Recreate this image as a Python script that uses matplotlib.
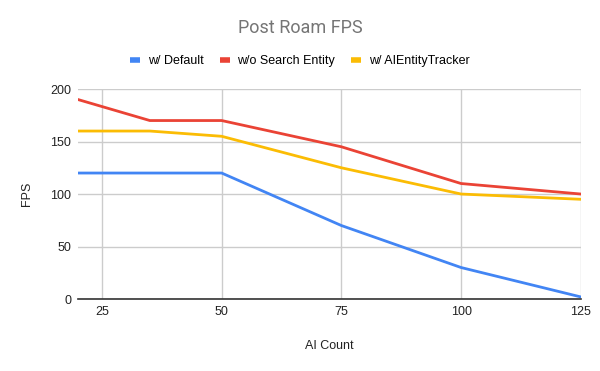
import matplotlib
import matplotlib.pyplot as plt

matplotlib.use('Agg')

ai_count = [20, 35, 50, 75, 100, 125]
fps_default = [120, 120, 120, 70, 30, 2]
fps_no_search = [190, 170, 170, 145, 110, 100]
fps_tracker = [160, 160, 155, 125, 100, 95]

series_labels = ['w/ Default', 'w/o Search Entity', 'w/ AIEntityTracker']
series_colors = ['#4285F4', '#EA4335', '#FBBC04']
x_ticks = [25, 50, 75, 100, 125]
y_ticks = [0, 50, 100, 150, 200]

plt.rcParams['font.family'] = ['Liberation Sans', 'DejaVu Sans']

fig = plt.figure(figsize=(6, 3.71), dpi=100)
ax = fig.add_axes([0.13, 0.194, 0.838, 0.566])

for ys, lab, col in zip([fps_default, fps_no_search, fps_tracker],
                        series_labels, series_colors):
    ax.plot(ai_count, ys, color=col, lw=2, label=lab, solid_joinstyle='round')

ax.set_xlim(20, 125)
ax.set_ylim(0, 200)
ax.set_xticks(x_ticks)
ax.set_yticks(y_ticks)
ax.grid(True, color='#cccccc', lw=1)
ax.set_axisbelow(True)
for s in ['top', 'right', 'left']:
    ax.spines[s].set_visible(False)
ax.spines['bottom'].set_color('#333333')
ax.spines['bottom'].set_linewidth(1.2)
ax.tick_params(length=0, labelsize=9, colors='#222222', pad=5)

ax.set_xlabel('AI Count', fontsize=9, color='#222222', labelpad=16)
ax.set_ylabel('FPS', fontsize=9, color='#222222', labelpad=12)

fig.text(0.5, 0.925, 'Post Roam FPS', ha='center', va='center',
         fontsize=13, color='#757575', family=['Roboto', 'DejaVu Sans'])
fig.legend(loc='center', bbox_to_anchor=(0.5, 0.835), ncol=3, frameon=False,
           fontsize=9, handlelength=0.8, handleheight=0.4, columnspacing=1.3,
           handletextpad=0.6)
leg = fig.legends[0]
for h in leg.legend_handles:
    h.set_linewidth(4)
    h.set_solid_capstyle('butt')

fig.savefig('out.png', dpi=100)
